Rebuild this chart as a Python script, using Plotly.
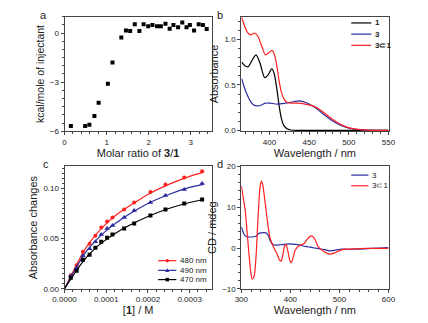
import plotly.graph_objects as go

# ---------------- Panel a : ITC ----------------
a_ratio = [0.15, 0.49, 0.59, 0.71, 0.81, 1.03, 1.14, 1.35, 1.46, 1.56, 1.67, 1.78, 1.88, 1.99,
           2.09, 2.20, 2.29, 2.40, 2.50, 2.59, 2.70, 2.80, 2.90, 2.98, 3.08, 3.19, 3.29, 3.38]
a_heat = [-5.68, -5.68, -5.59, -5.06, -4.26, -3.10, -1.80, -0.28, 0.15, 0.13, 0.54, 0.13, 0.54, 0.41,
          0.49, 0.41, 0.41, 0.56, 0.26, 0.49, 0.36, 0.64, 0.36, 0.49, 0.15, 0.54, 0.49, 0.24]

# ---------------- Panel b : UV-vis ----------------
b_wl_1 = [365, 369, 373, 378, 383, 388, 394, 399, 403, 406, 409, 412, 415, 418, 422, 427, 435, 450, 550]
b_abs_1 = [0.75, 0.71, 0.70, 0.77, 0.83, 0.74, 0.58, 0.62, 0.68, 0.62, 0.47, 0.28, 0.13, 0.055, 0.018,
           0.005, 0.0, 0.0, 0.0]
b_wl_3 = [365, 368, 372, 376, 380, 384, 390, 395, 400, 410, 420, 430, 438, 445, 452, 460, 470, 480,
          490, 500, 510, 520, 535, 550]
b_abs_3 = [0.57, 0.48, 0.39, 0.32, 0.28, 0.27, 0.28, 0.30, 0.30, 0.29, 0.30, 0.315, 0.325, 0.31, 0.28,
           0.235, 0.165, 0.10, 0.055, 0.025, 0.01, 0.004, 0.0, 0.0]
b_wl_31 = [365, 368, 372, 376, 381, 385, 390, 395, 400, 403, 406, 409, 412, 415, 418, 422, 428, 435,
           445, 455, 465, 475, 485, 495, 505, 515, 525, 540, 550]
b_abs_31 = [1.24, 1.16, 1.08, 1.05, 1.07, 1.04, 0.93, 0.83, 0.86, 0.88, 0.84, 0.72, 0.55, 0.42, 0.35,
            0.31, 0.30, 0.30, 0.29, 0.27, 0.22, 0.15, 0.09, 0.045, 0.02, 0.008, 0.003, 0.0, 0.0]
b_names = ["1", "3", "3⊂1"]

# ---------------- Panel c : titration ----------------
c_conc = [1.5e-5, 2.9e-5, 4.4e-5, 6.0e-5, 7.4e-5, 8.8e-5, 1.02e-4, 1.15e-4, 1.43e-4, 1.67e-4,
          2.06e-4, 2.42e-4, 2.87e-4, 3.30e-4]
c_480 = [0.0135, 0.0235, 0.037, 0.045, 0.053, 0.061, 0.067, 0.071, 0.079, 0.086, 0.0965, 0.104, 0.111, 0.117]
c_490 = [0.013, 0.021, 0.033, 0.040, 0.047, 0.054, 0.060, 0.063, 0.071, 0.078, 0.086, 0.093, 0.099, 0.105]
c_470 = [0.011, 0.018, 0.029, 0.034, 0.041, 0.047, 0.051, 0.054, 0.060, 0.065, 0.073, 0.079, 0.085, 0.089]
c_fit_conc = [0, 2.5e-5, 5e-5, 7.5e-5, 1e-4, 1.25e-4, 1.5e-4, 2e-4, 2.5e-4, 3e-4, 3.33e-4]
c_fit_480 = [0, 0.021, 0.040, 0.054, 0.065, 0.074, 0.081, 0.094, 0.104, 0.112, 0.116]
c_fit_490 = [0, 0.019, 0.036, 0.048, 0.058, 0.066, 0.073, 0.085, 0.094, 0.101, 0.104]
c_fit_470 = [0, 0.016, 0.030, 0.041, 0.049, 0.056, 0.062, 0.072, 0.080, 0.086, 0.089]
c_names = ["480 nm", "490 nm", "470 nm"]

# ---------------- Panel d : CD ----------------
d_wl_31 = [300, 303, 308, 312, 316, 319, 322, 326, 330, 334, 338, 341, 344, 348, 353, 358, 363, 367,
           373, 377, 381, 384, 388, 391, 395, 399, 402, 406, 410, 416, 421, 428, 434, 441, 445, 451,
           456, 464, 473, 482, 490, 499, 509, 529, 555, 600]
d_cd_31 = [15.2, 13.0, 9.1, 3.5, -2.1, -5.7, -7.6, -7.0, -2.1, 7.5, 14.8, 16.4, 15.2, 11.6, 6.7, 2.7,
           0.9, -0.1, -1.5, -2.8, -3.2, -2.1, 0.45, 0.9, -0.9, -3.1, -3.6, -2.1, -0.5, 0.45, 0.7, 1.1,
           2.1, 2.9, 2.9, 1.9, 0.45, -0.5, -1.2, -1.5, -1.2, -0.7, -0.35, -0.2, -0.1, -0.1]
d_wl_3 = [300, 305, 310, 320, 330, 335, 340, 350, 355, 360, 365, 370, 380, 390, 400, 410, 420, 430,
          440, 450, 460, 470, 480, 490, 500, 520, 550, 580, 600]
d_cd_3 = [5.2, 3.5, 2.8, 2.7, 2.9, 3.5, 3.7, 3.7, 3.0, 1.5, 0.8, 0.7, 0.8, 0.9, 1.0, 0.9, 0.7, 0.4,
          0.2, 0.0, -0.2, -0.4, -0.7, -0.6, -0.3, -0.3, -0.2, 0.0, 0.1]
d_names = ["3", "3⊂1"]

W, H = 428, 323
FONT = "Liberation Sans, Arial, sans-serif"
BLACK, BLUE, RED = "#000000", "#2b2b9e", "#ff2020"
TXT = "#222"

TOP_AB, BOT_AB = 13, 131
TOP_CD, BOT_CD = 167, 293


def px(x):
    return x / W


def py(y):
    return 1 - y / H


def xd(l, r):
    return [px(l), px(r)]


def yd(t, b):
    return [py(b), py(t)]


fig = go.Figure()

# a
fig.add_trace(go.Scatter(x=a_ratio, y=a_heat, mode="markers", xaxis="x", yaxis="y",
                         marker=dict(symbol="square", size=4, color=BLACK), showlegend=False))

# b
for wl, ab, col, nm in [(b_wl_1, b_abs_1, BLACK, b_names[0]), (b_wl_3, b_abs_3, BLUE, b_names[1]),
                        (b_wl_31, b_abs_31, RED, b_names[2])]:
    fig.add_trace(go.Scatter(x=wl, y=ab, mode="lines", xaxis="x2", yaxis="y2", name=nm, showlegend=False,
                             line=dict(color=col, width=1.2, shape="spline", smoothing=0.8)))

# c
c_styles = [(RED, "circle", 4), (BLUE, "triangle-up", 5), (BLACK, "square", 4)]
for fy, pyv, (col, sym, sz), nm in zip([c_fit_480, c_fit_490, c_fit_470], [c_480, c_490, c_470],
                                       c_styles, c_names):
    fig.add_trace(go.Scatter(x=c_fit_conc, y=fy, mode="lines", xaxis="x3", yaxis="y3", showlegend=False,
                             name=nm + " fit", line=dict(color=col, width=1.2, shape="spline", smoothing=0.8)))
    fig.add_trace(go.Scatter(x=c_conc, y=pyv, mode="markers", xaxis="x3", yaxis="y3", name=nm,
                             showlegend=False, marker=dict(symbol=sym, size=sz, color=col)))

# d
for wl, cd, col, nm in [(d_wl_3, d_cd_3, BLUE, d_names[0]), (d_wl_31, d_cd_31, RED, d_names[1])]:
    fig.add_trace(go.Scatter(x=wl, y=cd, mode="lines", xaxis="x4", yaxis="y4", name=nm, showlegend=False,
                             line=dict(color=col, width=1.2, shape="spline", smoothing=0.6)))

# ---- compact legends (Origin style) ----
shapes, annotations = [], []


def legend_block(x0, x1, ys, cols, names, bold=False, markers=None):
    for i, (y, col, nm) in enumerate(zip(ys, cols, names)):
        shapes.append(dict(type="line", xref="paper", yref="paper", x0=px(x0), x1=px(x1), y0=py(y), y1=py(y),
                           line=dict(color=col, width=1.2)))
        if markers:
            sym = markers[i]
            cx = (x0 + x1) / 2
            r = 1.8
            if sym == "circle":
                shapes.append(dict(type="circle", xref="paper", yref="paper", x0=px(cx - r), x1=px(cx + r),
                                   y0=py(y + r), y1=py(y - r), fillcolor=col, line=dict(width=0)))
            elif sym == "square":
                shapes.append(dict(type="rect", xref="paper", yref="paper", x0=px(cx - r), x1=px(cx + r),
                                   y0=py(y + r), y1=py(y - r), fillcolor=col, line=dict(width=0)))
            else:
                path = "M {} {} L {} {} L {} {} Z".format(px(cx - 2.2), py(y + 1.8), px(cx + 2.2), py(y + 1.8),
                                                          px(cx), py(y - 2.2))
                shapes.append(dict(type="path", xref="paper", yref="paper", path=path, fillcolor=col,
                                   line=dict(width=0)))
        annotations.append(dict(text=("<b>%s</b>" % nm) if bold else nm, x=px(x1 + 2), y=py(y),
                                xref="paper", yref="paper", xanchor="left", yanchor="middle",
                                showarrow=False, font=dict(size=8, family=FONT, color=TXT)))


legend_block(355, 376, [19.5, 31, 42.5], [BLACK, BLUE, RED], b_names, bold=True)
legend_block(153, 172, [264, 274, 283.5], [RED, BLUE, BLACK], c_names,
             markers=["circle", "triangle-up", "square"])
legend_block(355, 373, [176, 187], [BLUE, RED], d_names)

for t, x, y in [("a", 33, 11), ("b", 218, 11), ("c", 36, 165), ("d", 218, 165)]:
    annotations.append(dict(text=t, x=px(x), y=py(y), xref="paper", yref="paper", showarrow=False,
                            xanchor="center", yanchor="middle", font=dict(size=11, family=FONT, color=TXT)))

axis_common = dict(showline=True, linecolor="#444", linewidth=1, mirror=True, ticks="outside",
                   ticklen=3, tickcolor="#444", tickwidth=1, showgrid=False, zeroline=False,
                   tickfont=dict(size=8, color=TXT, family=FONT),
                   minor=dict(ticks="outside", ticklen=2, tickcolor="#444", showgrid=False))
tfont = dict(size=11, color=TXT, family=FONT)
tfont_a = dict(size=10.5, color=TXT, family=FONT)

fig.update_layout(
    width=W, height=H, margin=dict(l=0, r=0, t=0, b=0),
    paper_bgcolor="white", plot_bgcolor="white",
    font=dict(family=FONT, color=TXT), showlegend=False,
    xaxis=dict(axis_common, domain=xd(55, 209), anchor="y", range=[0, 3.5], tickvals=[0, 1, 2, 3],
               title=dict(text="Molar ratio of <b>3</b>/<b>1</b>", font=tfont, standoff=0)),
    yaxis=dict(axis_common, domain=yd(TOP_AB, BOT_AB), anchor="x", range=[-6, 1], tickvals=[-6, -3, 0],
               title=dict(text="kcal/mole of injectant", font=tfont_a, standoff=3)),
    xaxis2=dict(axis_common, domain=xd(240, 394), anchor="y2", range=[364.5, 550],
                tickvals=[400, 450, 500, 550],
                title=dict(text="Wavelength / nm", font=tfont, standoff=0)),
    yaxis2=dict(axis_common, domain=yd(TOP_AB, BOT_AB), anchor="x2", range=[-0.01, 1.25],
                tickvals=[0, 0.5, 1.0], ticktext=["0.0", "0.5", "1.0"],
                title=dict(text="Absorbance", font=tfont, standoff=3)),
    xaxis3=dict(axis_common, domain=xd(55, 209), anchor="y3", range=[0, 0.000353],
                tickvals=[0, 0.0001, 0.0002, 0.0003],
                ticktext=["0.0000", "0.0001", "0.0002", "0.0003"],
                title=dict(text="[<b>1</b>] / M", font=tfont, standoff=0)),
    yaxis3=dict(axis_common, domain=yd(TOP_CD, BOT_CD), anchor="x3", range=[0, 0.122],
                tickvals=[0, 0.05, 0.10], ticktext=["0.00", "0.05", "0.10"],
                title=dict(text="Absorbance changes", font=tfont, standoff=3)),
    xaxis4=dict(axis_common, domain=xd(240, 394), anchor="y4", range=[300, 600],
                tickvals=[300, 400, 500, 600],
                title=dict(text="Wavelength / nm", font=tfont, standoff=0)),
    yaxis4=dict(axis_common, domain=yd(TOP_CD, BOT_CD), anchor="x4", range=[-10, 20],
                tickvals=[-10, 0, 10, 20],
                title=dict(text="CD / mdeg", font=tfont, standoff=3)),
    shapes=shapes,
    annotations=annotations,
)

fig.write_html("out.html", config={"displayModeBar": False},
               post_script="document.body.style.margin='0';")
